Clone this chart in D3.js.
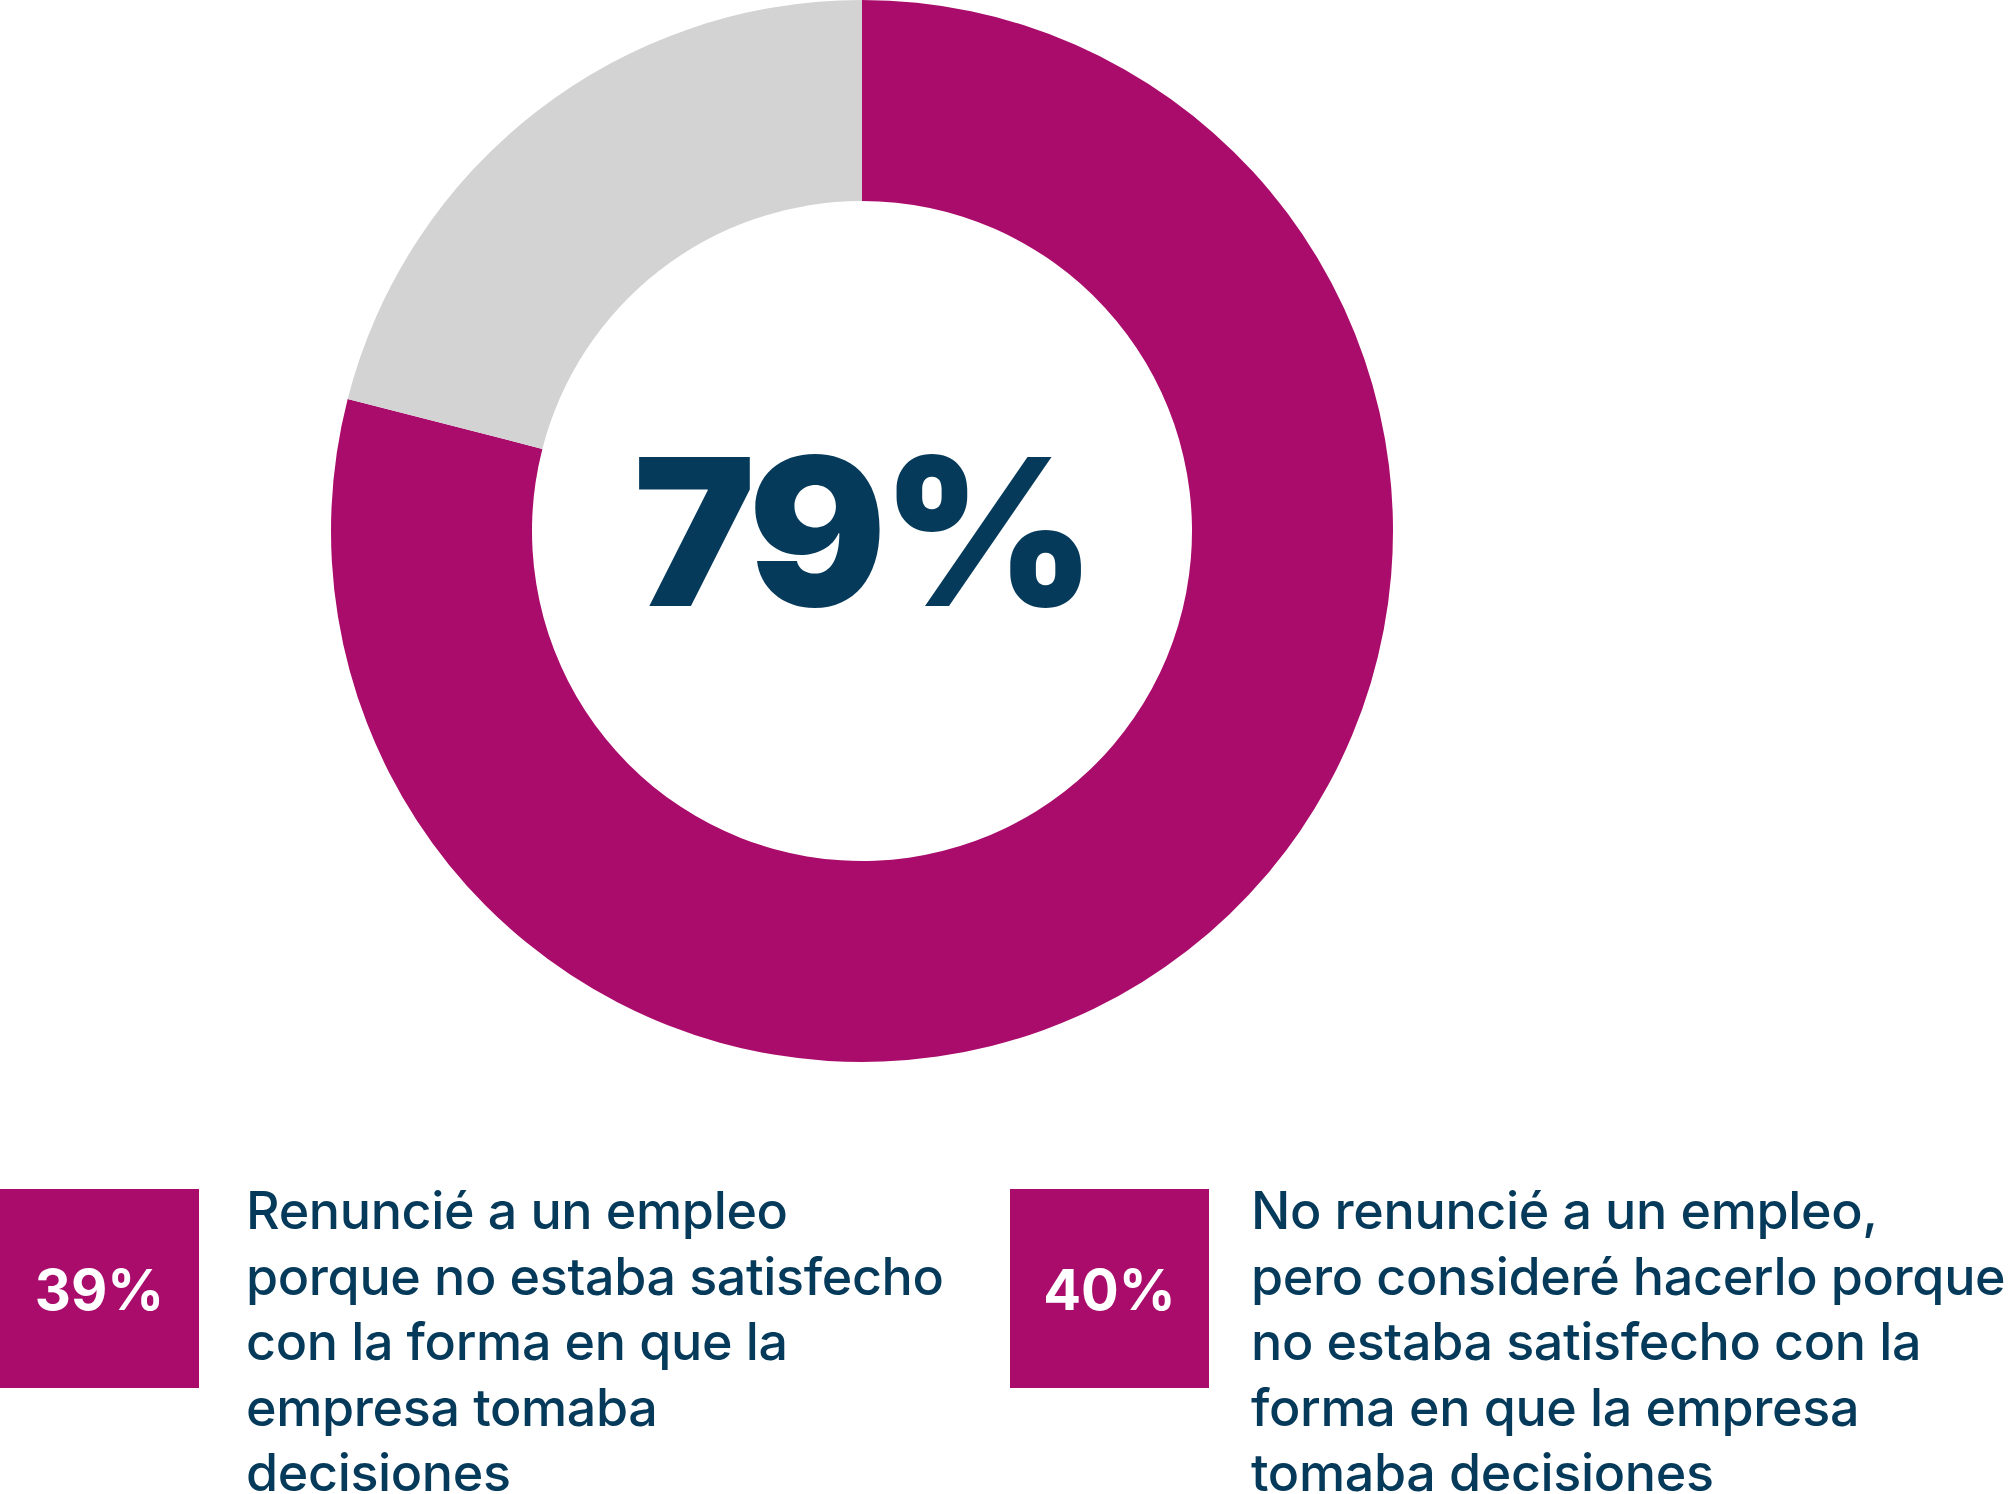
<!DOCTYPE html>
<html>
<head>
<meta charset="utf-8">
<script src="https://cdn.jsdelivr.net/npm/d3@7"></script>
<style>
  html, body { margin: 0; padding: 0; background: #ffffff; }
  svg { display: block; }
</style>
</head>
<body>
<svg id="chart" width="2012" height="1494"></svg>
<script>
// ---- data ----
const categories = ["Renunció o consideró renunciar", "Otros"];
const values = [79, 21];
const centerLabel = "79%";
const legendValues = ["39%", "40%"];
const legendLines = [
  ["Renuncié a un empleo", "porque no estaba satisfecho", "con la forma en que la", "empresa tomaba", "decisiones"],
  ["No renuncié a un empleo,", "pero consideré hacerlo porque", "no estaba satisfecho con la", "forma en que la empresa", "tomaba decisiones"]
];

// ---- styles ----
const MAGENTA = "#AA0C6B";
const GRAY = "#D3D3D3";
const NAVY = "#063A5B";

const svg = d3.select("#chart");
const cx = 862, cy = 531, R = 531, r = 330;

const color = d3.scaleOrdinal().domain(categories).range([MAGENTA, GRAY]);
const pie = d3.pie().sort(null).value(d => d.v);
const arc = d3.arc().innerRadius(r).outerRadius(R);
const data = categories.map((c, i) => ({ c, v: values[i] }));

const g = svg.append("g").attr("transform", `translate(${cx},${cy})`);
g.selectAll("path").data(pie(data)).join("path")
  .attr("d", arc)
  .attr("fill", d => color(d.data.c));

g.append("text")
  .attr("x", 0).attr("y", 75)
  .attr("text-anchor", "middle")
  .attr("font-family", "Inter, 'Noto Sans', sans-serif")
  .attr("font-weight", 900)
  .attr("font-size", 205)
  .attr("letter-spacing", -5)
  .attr("fill", NAVY)
  .text(centerLabel);

// ---- legend ----
const boxX = [0, 1010];
const textX = [246, 1251];
const boxY = 1189, boxS = 199;
const lineStep = 65.5, firstBase = 1229;

legendValues.forEach((val, i) => {
  const lg = svg.append("g");
  lg.append("rect")
    .attr("x", boxX[i]).attr("y", boxY)
    .attr("width", boxS).attr("height", boxS)
    .attr("fill", MAGENTA);
  lg.append("text")
    .attr("x", boxX[i] + boxS / 2).attr("y", 1310)
    .attr("text-anchor", "middle")
    .attr("font-family", "Inter, 'Noto Sans', sans-serif")
    .attr("font-weight", 700)
    .attr("font-size", 56)
    .attr("fill", "#ffffff")
    .text(val);
  const t = lg.append("text")
    .attr("font-family", "Inter, 'Noto Sans', sans-serif")
    .attr("font-weight", 500)
    .attr("font-size", 52)
    .attr("letter-spacing", -0.35)
    .attr("fill", NAVY);
  legendLines[i].forEach((line, j) => {
    t.append("tspan")
      .attr("x", textX[i])
      .attr("y", firstBase + j * lineStep)
      .text(line);
  });
});
</script>
</body>
</html>
